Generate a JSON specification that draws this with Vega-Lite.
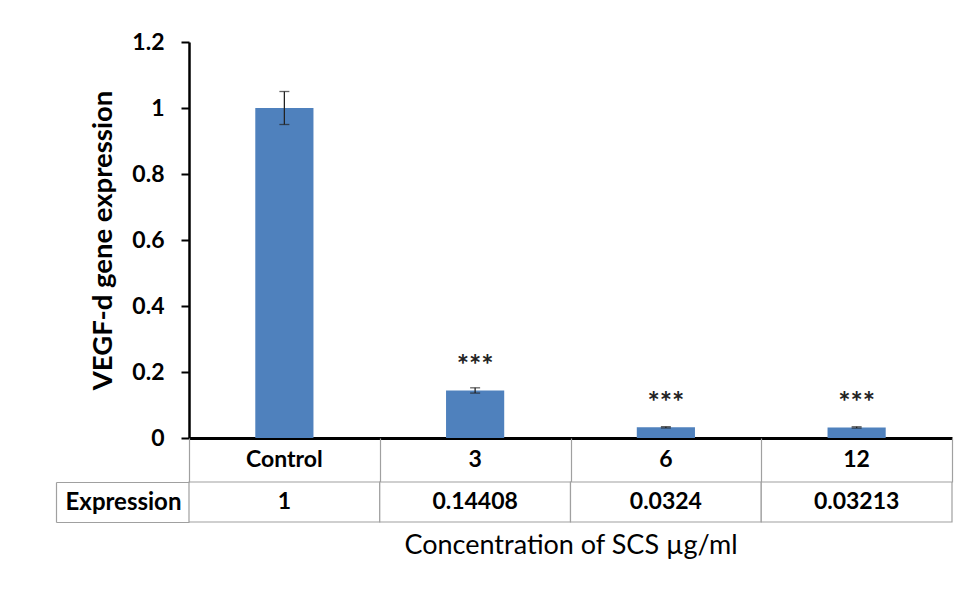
{
  "$schema": "https://vega.github.io/schema/vega-lite/v6.json",
  "background": "white",
  "padding": {"left": 55, "top": 31, "right": 10, "bottom": 10},
  "spacing": 0,
  "bounds": "flush",
  "config": {
    "font": "Lato",
    "view": {"stroke": null}
  },
  "datasets": {
    "genes": [
      {"Concentration": "Control", "Expression": 1, "Error": 0.05, "Significance": ""},
      {"Concentration": "3", "Expression": 0.14408, "Error": 0.008, "Significance": "***"},
      {"Concentration": "6", "Expression": 0.0324, "Error": 0.002, "Significance": "***"},
      {"Concentration": "12", "Expression": 0.03213, "Error": 0.002, "Significance": "***"}
    ]
  },
  "vconcat": [
    {
      "width": 763,
      "height": 396,
      "data": {"name": "genes"},
      "encoding": {
        "x": {
          "field": "Concentration",
          "type": "nominal",
          "sort": null,
          "scale": {"paddingInner": 0, "paddingOuter": 0},
          "axis": {"title": null, "labels": false, "ticks": false, "domainColor": "black", "domainWidth": 3}
        },
        "y": {
          "field": "Expression",
          "type": "quantitative",
          "scale": {"domain": [0, 1.2]},
          "title": "VEGF-d gene expression",
          "axis": {
            "titleFontSize": 27.5,
            "titleFontWeight": "bold",
            "titleColor": "black",
            "titlePadding": 14,
            "values": [0, 0.2, 0.4, 0.6, 0.8, 1, 1.2],
            "format": "~g",
            "grid": false,
            "labelFontSize": 23,
            "labelFontWeight": "bold",
            "labelColor": "black",
            "labelPadding": 17,
            "tickSize": 8,
            "tickWidth": 2,
            "tickColor": "black",
            "domainColor": "black",
            "domainWidth": 2.5
          }
        }
      },
      "layer": [
        {
          "mark": {"type": "bar", "color": "#4F81BD", "width": {"band": 0.305}}
        },
        {
          "mark": {"type": "errorbar", "ticks": {"size": 10}, "color": "#222222", "thickness": 1.3},
          "encoding": {
            "yError": {"field": "Error"}
          }
        },
        {
          "mark": {"type": "text", "baseline": "alphabetic", "dy": -15, "fontSize": 29, "fontWeight": "bold", "color": "#222222"},
          "encoding": {
            "text": {"field": "Significance"}
          }
        }
      ]
    },
    {
      "width": 763,
      "height": 44,
      "data": {"name": "genes"},
      "mark": {"type": "text", "fontSize": 23, "fontWeight": "bold", "color": "black"},
      "encoding": {
        "x": {
          "field": "Concentration",
          "type": "nominal",
          "sort": null,
          "scale": {"paddingInner": 0, "paddingOuter": 0},
          "axis": {
            "orient": "top",
            "title": null,
            "labels": false,
            "ticks": false,
            "domain": false,
            "grid": true,
            "tickBand": "extent",
            "gridColor": "#a0a0a0",
            "gridWidth": 1.2,
            "gridOpacity": 1
          }
        },
        "text": {"field": "Concentration"}
      }
    },
    {
      "width": 763,
      "height": 40,
      "data": {"name": "genes"},
      "encoding": {
        "x": {
          "field": "Concentration",
          "type": "nominal",
          "sort": null,
          "scale": {"paddingInner": 0, "paddingOuter": 0},
          "axis": {
            "title": "Concentration of SCS µg/ml",
            "titleFontSize": 27,
            "titleFontWeight": "normal",
            "titleColor": "black",
            "titlePadding": 10,
            "labels": false,
            "ticks": false,
            "domain": false
          }
        },
        "y": {
          "datum": "Expression",
          "type": "nominal",
          "scale": {"paddingInner": 0, "paddingOuter": 0},
          "axis": {
            "title": null,
            "orient": "left",
            "offset": 133,
            "tickSize": -133,
            "tickBand": "extent",
            "tickColor": "#a0a0a0",
            "tickWidth": 1.2,
            "domainColor": "#a0a0a0",
            "domainWidth": 1.2,
            "labelFontSize": 24,
            "labelFontWeight": "bold",
            "labelColor": "black",
            "labelAlign": "center",
            "labelPadding": 66
          }
        }
      },
      "layer": [
        {"mark": {"type": "rect", "fill": "white", "stroke": "#a0a0a0", "strokeWidth": 1.2}},
        {
          "mark": {"type": "text", "fontSize": 23, "fontWeight": "bold", "color": "black"},
          "encoding": {"text": {"field": "Expression", "type": "nominal"}}
        }
      ]
    }
  ]
}
